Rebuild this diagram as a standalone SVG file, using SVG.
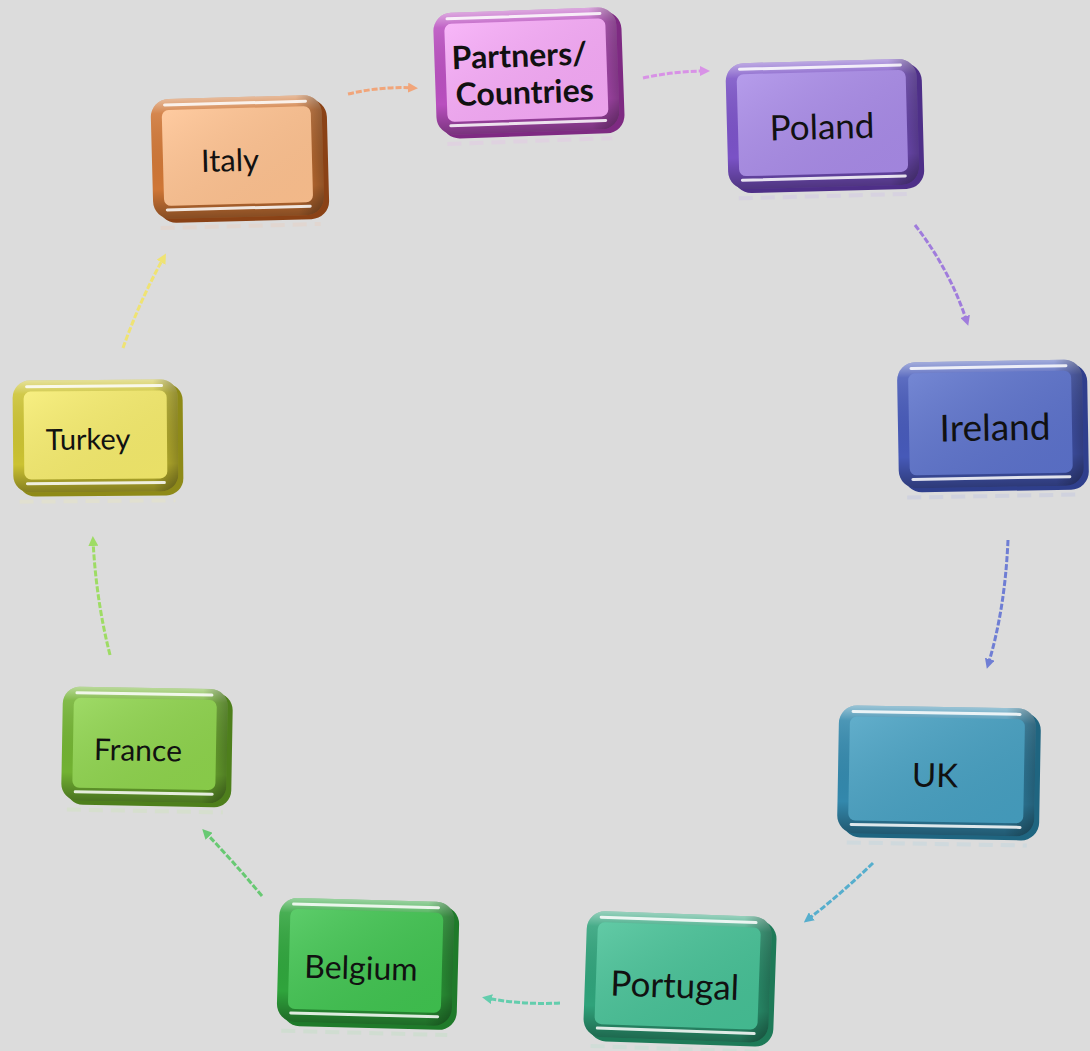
<svg xmlns="http://www.w3.org/2000/svg" width="1090" height="1051" viewBox="0 0 1090 1051">
<defs>
<style>
text{font-family:"Lato","Open Sans","Liberation Sans",sans-serif;fill:#111;text-anchor:middle;dominant-baseline:central}
.hl{stroke:#fff;stroke-width:3;stroke-linecap:round;opacity:.85}
.refl{stroke-width:4;stroke-dasharray:14 8;opacity:.25}
.conn{fill:none;stroke-width:3;stroke-dasharray:6 2;opacity:.9}
.partners .depth{fill:#7E2A82}.partners .frame{fill:#B94FBF}.partners .face{fill:#F7AAF8}.partners .refl{stroke:#E9B7EE}
.poland .depth{fill:#4E2F88}.poland .frame{fill:#7A52C6}.poland .face{fill:#A98BE8}.poland .refl{stroke:#C9B8EE}
.ireland .depth{fill:#2F3F8C}.ireland .frame{fill:#4659B8}.ireland .face{fill:#5C72CC}.ireland .refl{stroke:#AEB8E6}
.uk .depth{fill:#1F6580}.uk .frame{fill:#3388AC}.uk .face{fill:#46A0C2}.uk .refl{stroke:#A9D2E2}
.portugal .depth{fill:#1E7A58}.portugal .frame{fill:#2FA27A}.portugal .face{fill:#46C196}.portugal .refl{stroke:#AEE0CC}
.belgium .depth{fill:#1F7A2A}.belgium .frame{fill:#2FA43C}.belgium .face{fill:#40C450}.belgium .refl{stroke:#B0E2B4}
.france .depth{fill:#4E7F1C}.france .frame{fill:#72B232}.france .face{fill:#8ED44C}.france .refl{stroke:#C8E8A8}
.turkey .depth{fill:#8E8A18}.turkey .frame{fill:#CBC232}.turkey .face{fill:#F6EC6C}.turkey .refl{stroke:#F0ECB0}
.italy .depth{fill:#8A4216}.italy .frame{fill:#CF7636}.italy .face{fill:#FFC290}.italy .refl{stroke:#F0C8B0}
</style>
<linearGradient id="bevel" x1="0" y1="0" x2="0" y2="1">
<stop offset="0" stop-color="#fff" stop-opacity="0.5"/>
<stop offset="0.12" stop-color="#fff" stop-opacity="0.12"/>
<stop offset="0.75" stop-color="#000" stop-opacity="0"/>
<stop offset="1" stop-color="#000" stop-opacity="0.35"/>
</linearGradient>
<linearGradient id="side" x1="0" y1="0" x2="1" y2="0">
<stop offset="0" stop-color="#000" stop-opacity="0"/>
<stop offset="0.85" stop-color="#000" stop-opacity="0"/>
<stop offset="1" stop-color="#000" stop-opacity="0.3"/>
</linearGradient>
<linearGradient id="faceg" x1="0" y1="0" x2="1" y2="1">
<stop offset="0" stop-color="#fff" stop-opacity="0.15"/>
<stop offset="1" stop-color="#000" stop-opacity="0.05"/>
</linearGradient>
<marker id="m1" viewBox="0 0 10 10" refX="6" refY="5" markerWidth="10" markerHeight="10" markerUnits="userSpaceOnUse" orient="auto"><path d="M0,0 L10,5 L0,10 z" fill="#F4A070"/></marker>
<marker id="m2" viewBox="0 0 10 10" refX="6" refY="5" markerWidth="10" markerHeight="10" markerUnits="userSpaceOnUse" orient="auto"><path d="M0,0 L10,5 L0,10 z" fill="#D88AE8"/></marker>
<marker id="m3" viewBox="0 0 10 10" refX="6" refY="5" markerWidth="10" markerHeight="10" markerUnits="userSpaceOnUse" orient="auto"><path d="M0,0 L10,5 L0,10 z" fill="#9A72DC"/></marker>
<marker id="m4" viewBox="0 0 10 10" refX="6" refY="5" markerWidth="10" markerHeight="10" markerUnits="userSpaceOnUse" orient="auto"><path d="M0,0 L10,5 L0,10 z" fill="#6474D4"/></marker>
<marker id="m5" viewBox="0 0 10 10" refX="6" refY="5" markerWidth="10" markerHeight="10" markerUnits="userSpaceOnUse" orient="auto"><path d="M0,0 L10,5 L0,10 z" fill="#48AACC"/></marker>
<marker id="m6" viewBox="0 0 10 10" refX="6" refY="5" markerWidth="10" markerHeight="10" markerUnits="userSpaceOnUse" orient="auto"><path d="M0,0 L10,5 L0,10 z" fill="#56CCA8"/></marker>
<marker id="m7" viewBox="0 0 10 10" refX="6" refY="5" markerWidth="10" markerHeight="10" markerUnits="userSpaceOnUse" orient="auto"><path d="M0,0 L10,5 L0,10 z" fill="#5CC868"/></marker>
<marker id="m8" viewBox="0 0 10 10" refX="6" refY="5" markerWidth="10" markerHeight="10" markerUnits="userSpaceOnUse" orient="auto"><path d="M0,0 L10,5 L0,10 z" fill="#98DC58"/></marker>
<marker id="m9" viewBox="0 0 10 10" refX="6" refY="5" markerWidth="10" markerHeight="10" markerUnits="userSpaceOnUse" orient="auto"><path d="M0,0 L10,5 L0,10 z" fill="#F2E468"/></marker>
</defs>
<rect width="1090" height="1051" fill="#DCDCDC"/>

<g id="connectors">
<path class="conn" d="M348,94 Q382,86 414,88" stroke="#F4A070" marker-end="url(#m1)"/>
<path class="conn" d="M643,78 Q676,71 706,71" stroke="#D88AE8" marker-end="url(#m2)"/>
<path class="conn" d="M915,225 Q950,270 967,322" stroke="#9A72DC" marker-end="url(#m3)"/>
<path class="conn" d="M1008,540 Q1005,610 988,665" stroke="#6474D4" marker-end="url(#m4)"/>
<path class="conn" d="M873,863 Q840,895 807,920" stroke="#48AACC" marker-end="url(#m5)"/>
<path class="conn" d="M560,1003 Q522,1005 486,998" stroke="#56CCA8" marker-end="url(#m6)"/>
<path class="conn" d="M262,896 Q232,860 205,832" stroke="#5CC868" marker-end="url(#m7)"/>
<path class="conn" d="M110,655 Q96,600 93,540" stroke="#98DC58" marker-end="url(#m8)"/>
<path class="conn" d="M123,348 Q140,300 164,257" stroke="#F2E468" marker-end="url(#m9)"/>
</g>

<g id="node-partners" class="partners" transform="translate(530,74) rotate(-2)">
<line class="refl" x1="-85" y1="67" x2="80" y2="67"/>
<rect class="depth" x="-90" y="-60" width="183" height="122" rx="18"/>
<rect class="frame" x="-95" y="-64" width="183" height="122" rx="18"/>
<rect fill="url(#bevel)" x="-95" y="-64" width="183" height="122" rx="18"/>
<rect fill="url(#side)" x="-95" y="-64" width="183" height="122" rx="18"/>
<rect class="face" x="-84" y="-53" width="161" height="98" rx="7"/>
<rect fill="url(#faceg)" x="-84" y="-53" width="161" height="98" rx="7"/>
<line class="hl" x1="-81" y1="-58" x2="72" y2="-58"/>
<line class="hl" x1="-81" y1="49" x2="74" y2="49"/>
<text x="-10" y="-20" font-size="32" font-weight="bold">Partners/</text>
<text x="-6" y="17" font-size="32" font-weight="bold">Countries</text>
</g>

<g id="node-poland" class="poland" transform="translate(826,127) rotate(-1.5)">
<line class="refl" x1="-89" y1="69" x2="86" y2="69"/>
<rect class="depth" x="-94" y="-62" width="191" height="126" rx="18"/>
<rect class="frame" x="-99" y="-66" width="191" height="126" rx="18"/>
<rect fill="url(#bevel)" x="-99" y="-66" width="191" height="126" rx="18"/>
<rect fill="url(#side)" x="-99" y="-66" width="191" height="126" rx="18"/>
<rect class="face" x="-88" y="-55" width="169" height="102" rx="7"/>
<rect fill="url(#faceg)" x="-88" y="-55" width="169" height="102" rx="7"/>
<line class="hl" x1="-85" y1="-60" x2="76" y2="-60"/>
<line class="hl" x1="-85" y1="51" x2="78" y2="51"/>
<text x="-4" y="-2" font-size="35">Poland</text>
</g>

<g id="node-ireland" class="ireland" transform="translate(994,427) rotate(-1)">
<line class="refl" x1="-88" y1="69" x2="84" y2="69"/>
<rect class="depth" x="-91" y="-62" width="185" height="126" rx="18"/>
<rect class="frame" x="-96" y="-66" width="185" height="126" rx="18"/>
<rect fill="url(#bevel)" x="-96" y="-66" width="185" height="126" rx="18"/>
<rect fill="url(#side)" x="-96" y="-66" width="185" height="126" rx="18"/>
<rect class="face" x="-85" y="-55" width="163" height="102" rx="7"/>
<rect fill="url(#faceg)" x="-85" y="-55" width="163" height="102" rx="7"/>
<line class="hl" x1="-82" y1="-60" x2="73" y2="-60"/>
<line class="hl" x1="-82" y1="51" x2="75" y2="51"/>
<text x="1" y="-1" font-size="37">Ireland</text>
</g>

<g id="node-uk" class="uk" transform="translate(940,774) rotate(1)">
<line class="refl" x1="-92" y1="70" x2="88" y2="70"/>
<rect class="depth" x="-97" y="-63" width="197" height="128" rx="18"/>
<rect class="frame" x="-102" y="-67" width="197" height="128" rx="18"/>
<rect fill="url(#bevel)" x="-102" y="-67" width="197" height="128" rx="18"/>
<rect fill="url(#side)" x="-102" y="-67" width="197" height="128" rx="18"/>
<rect class="face" x="-91" y="-56" width="175" height="104" rx="7"/>
<rect fill="url(#faceg)" x="-91" y="-56" width="175" height="104" rx="7"/>
<line class="hl" x1="-88" y1="-61" x2="79" y2="-61"/>
<line class="hl" x1="-88" y1="52" x2="81" y2="52"/>
<text x="-5" y="0" font-size="33">UK</text>
</g>

<g id="node-portugal" class="portugal" transform="translate(681,980) rotate(2)">
<line class="refl" x1="-88" y1="69" x2="84" y2="69"/>
<rect class="depth" x="-91" y="-62" width="185" height="126" rx="18"/>
<rect class="frame" x="-96" y="-66" width="185" height="126" rx="18"/>
<rect fill="url(#bevel)" x="-96" y="-66" width="185" height="126" rx="18"/>
<rect fill="url(#side)" x="-96" y="-66" width="185" height="126" rx="18"/>
<rect class="face" x="-85" y="-55" width="163" height="102" rx="7"/>
<rect fill="url(#faceg)" x="-85" y="-55" width="163" height="102" rx="7"/>
<line class="hl" x1="-82" y1="-60" x2="73" y2="-60"/>
<line class="hl" x1="-82" y1="51" x2="75" y2="51"/>
<text x="-6" y="4" font-size="35">Portugal</text>
</g>

<g id="node-belgium" class="belgium" transform="translate(369,965) rotate(1.5)">
<line class="refl" x1="-86" y1="68" x2="80" y2="68"/>
<rect class="depth" x="-86" y="-61" width="175" height="124" rx="18"/>
<rect class="frame" x="-91" y="-65" width="175" height="124" rx="18"/>
<rect fill="url(#bevel)" x="-91" y="-65" width="175" height="124" rx="18"/>
<rect fill="url(#side)" x="-91" y="-65" width="175" height="124" rx="18"/>
<rect class="face" x="-80" y="-54" width="153" height="100" rx="7"/>
<rect fill="url(#faceg)" x="-80" y="-54" width="153" height="100" rx="7"/>
<line class="hl" x1="-77" y1="-59" x2="68" y2="-59"/>
<line class="hl" x1="-77" y1="50" x2="70" y2="50"/>
<text x="-8" y="2" font-size="32">Belgium</text>
</g>

<g id="node-france" class="france" transform="translate(148,748) rotate(1)">
<line class="refl" x1="-80" y1="63" x2="76" y2="63"/>
<rect class="depth" x="-81" y="-56" width="165" height="114" rx="17"/>
<rect class="frame" x="-86" y="-60" width="165" height="114" rx="17"/>
<rect fill="url(#bevel)" x="-86" y="-60" width="165" height="114" rx="17"/>
<rect fill="url(#side)" x="-86" y="-60" width="165" height="114" rx="17"/>
<rect class="face" x="-75" y="-49" width="143" height="90" rx="7"/>
<rect fill="url(#faceg)" x="-75" y="-49" width="143" height="90" rx="7"/>
<line class="hl" x1="-72" y1="-54" x2="63" y2="-54"/>
<line class="hl" x1="-72" y1="45" x2="65" y2="45"/>
<text x="-10" y="1" font-size="30">France</text>
</g>

<g id="node-turkey" class="turkey" transform="translate(99,439) rotate(-0.5)">
<line class="refl" x1="-80" y1="62" x2="76" y2="62"/>
<rect class="depth" x="-81" y="-55" width="165" height="112" rx="17"/>
<rect class="frame" x="-86" y="-59" width="165" height="112" rx="17"/>
<rect fill="url(#bevel)" x="-86" y="-59" width="165" height="112" rx="17"/>
<rect fill="url(#side)" x="-86" y="-59" width="165" height="112" rx="17"/>
<rect class="face" x="-75" y="-48" width="143" height="88" rx="7"/>
<rect fill="url(#faceg)" x="-75" y="-48" width="143" height="88" rx="7"/>
<line class="hl" x1="-72" y1="-53" x2="63" y2="-53"/>
<line class="hl" x1="-72" y1="44" x2="65" y2="44"/>
<text x="-11" y="-1" font-size="29">Turkey</text>
</g>

<g id="node-italy" class="italy" transform="translate(241,160) rotate(-1.5)">
<line class="refl" x1="-82" y1="66" x2="78" y2="66"/>
<rect class="depth" x="-84" y="-59" width="171" height="120" rx="18"/>
<rect class="frame" x="-89" y="-63" width="171" height="120" rx="18"/>
<rect fill="url(#bevel)" x="-89" y="-63" width="171" height="120" rx="18"/>
<rect fill="url(#side)" x="-89" y="-63" width="171" height="120" rx="18"/>
<rect class="face" x="-78" y="-52" width="149" height="96" rx="7"/>
<rect fill="url(#faceg)" x="-78" y="-52" width="149" height="96" rx="7"/>
<line class="hl" x1="-75" y1="-57" x2="66" y2="-57"/>
<line class="hl" x1="-75" y1="48" x2="68" y2="48"/>
<text x="-11" y="-1" font-size="31">Italy</text>
</g>
</svg>
